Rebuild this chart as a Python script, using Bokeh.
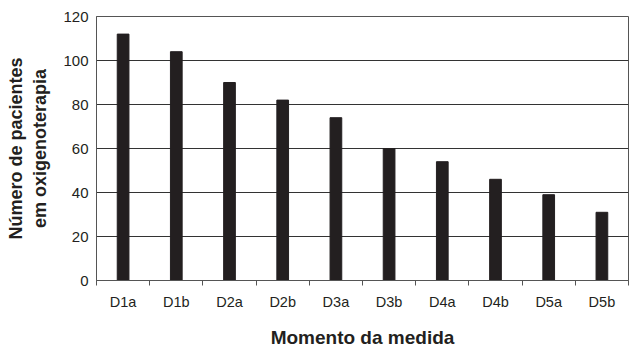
from bokeh.plotting import figure
from bokeh.models import FixedTicker, Range1d
from bokeh.embed import file_html
from bokeh.resources import INLINE

categories = ["D1a", "D1b", "D2a", "D2b", "D3a", "D3b", "D4a", "D4b", "D5a", "D5b"]
values = [112, 104, 90, 82, 74, 60, 54, 46, 39, 31]
y_ticks = [0, 20, 40, 60, 80, 100, 120]

xpos = [i + 0.5 for i in range(len(categories))]

p = figure(width=633, height=350, output_backend="svg", toolbar_location=None,
           x_range=Range1d(0, len(categories)), y_range=Range1d(0, 120),
           min_border_left=96, min_border_right=5, min_border_top=16, min_border_bottom=70)

p.vbar(x=xpos, top=values, width=0.22, color="#231f20")

FONT = "Liberation Sans"
TXT = "#231f20"

# x axis
p.xaxis.ticker = FixedTicker(ticks=xpos, minor_ticks=list(range(len(categories) + 1)))
p.xaxis.major_label_overrides = {x: c for x, c in zip(xpos, categories)}
p.xaxis.major_tick_out = 0
p.xaxis.major_tick_in = 0
p.xaxis.minor_tick_out = 5
p.xaxis.minor_tick_in = 0
p.xaxis.minor_tick_line_color = "#555555"
p.xaxis.axis_line_color = "#555555"
p.xaxis.major_label_text_font = FONT
p.xaxis.major_label_text_font_size = "14.5px"
p.xaxis.major_label_text_color = TXT
p.xaxis.major_label_standoff = 8
p.xaxis.axis_label = "Momento da medida"
p.xaxis.axis_label_text_font = FONT
p.xaxis.axis_label_text_font_size = "19px"
p.xaxis.axis_label_text_font_style = "bold"
p.xaxis.axis_label_text_color = TXT
p.xaxis.axis_label_standoff = 14

# y axis
p.yaxis.ticker = FixedTicker(ticks=y_ticks)
p.yaxis.major_tick_out = 0
p.yaxis.major_tick_in = 0
p.yaxis.minor_tick_line_color = None
p.yaxis.axis_line_color = "#555555"
p.yaxis.major_label_text_font = FONT
p.yaxis.major_label_text_font_size = "15px"
p.yaxis.major_label_text_color = TXT
p.yaxis.major_label_standoff = 8
p.yaxis.axis_label = "Número de pacientes\nem oxigenoterapia"
p.yaxis.axis_label_text_font = FONT
p.yaxis.axis_label_text_font_size = "18px"
p.yaxis.axis_label_text_font_style = "bold"
p.yaxis.axis_label_text_color = TXT
p.yaxis.axis_label_standoff = 10

p.xgrid.grid_line_color = None
p.ygrid.grid_line_color = "#333333"
p.ygrid.grid_line_width = 1
p.outline_line_color = "#555555"
p.background_fill_color = "white"
p.border_fill_color = "white"

open("out.html", "w").write(file_html(p, INLINE))
